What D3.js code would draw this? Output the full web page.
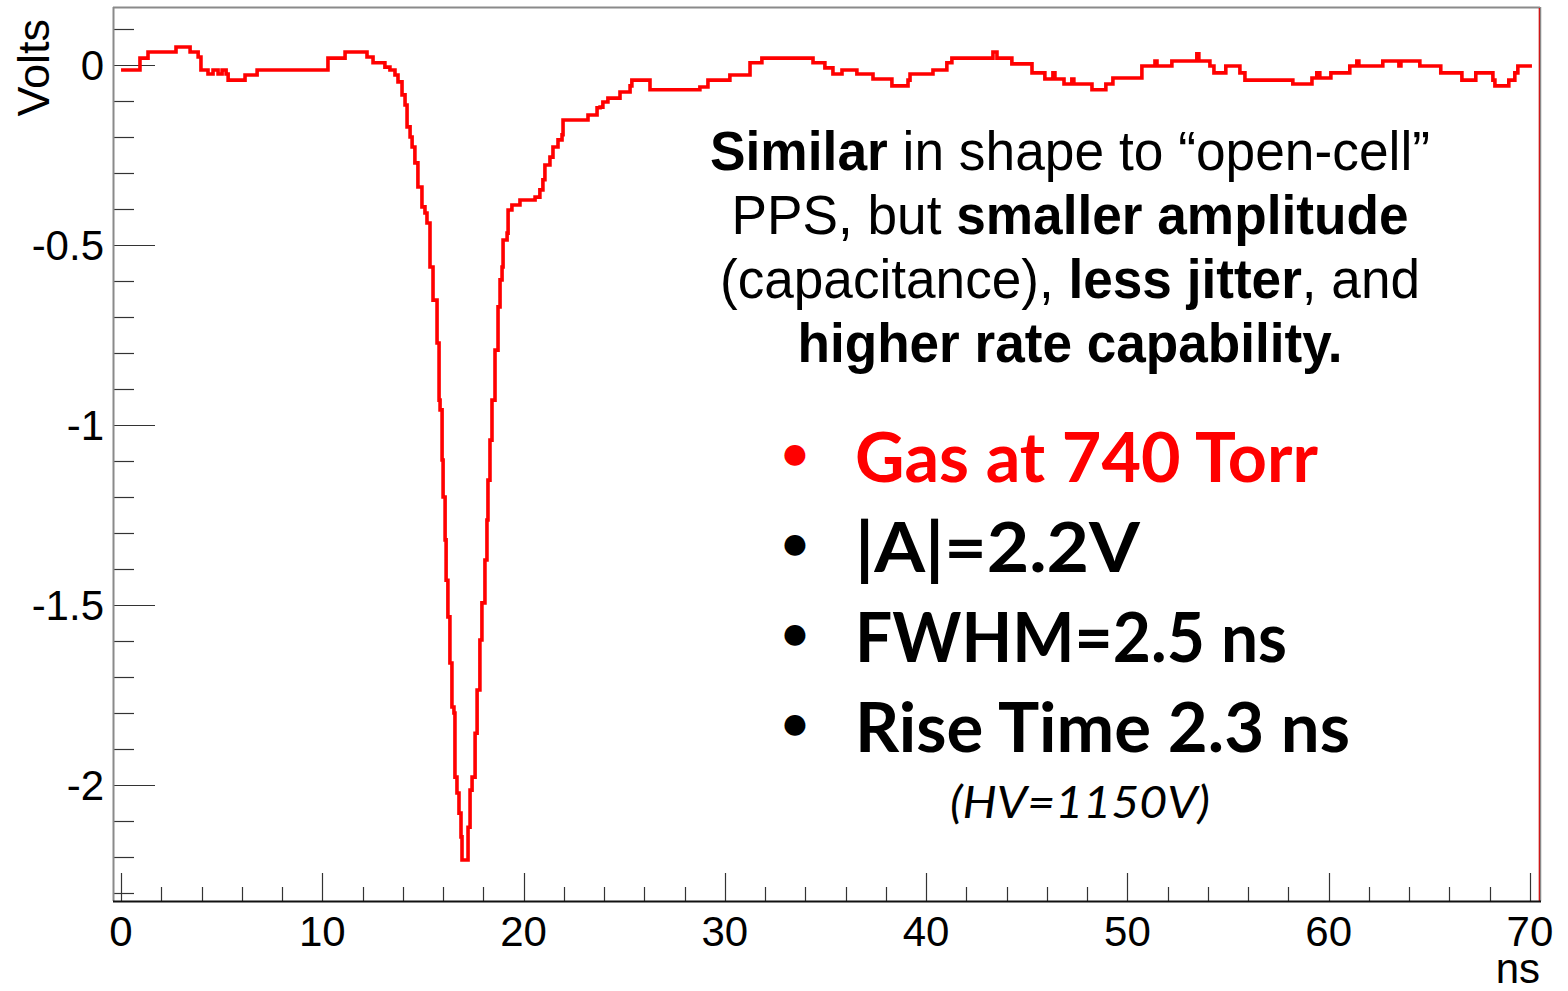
<!DOCTYPE html>
<html>
<head>
<meta charset="utf-8">
<script src="https://cdn.jsdelivr.net/npm/d3@7"></script>
<style>
  html, body { margin: 0; padding: 0; background: #fff; }
  svg { display: block; }
</style>
</head>
<body>
<svg id="chart" width="1568" height="991"></svg>
<script>
// ---------------- data ----------------
// waveform: [time (ns), amplitude (V)]
const waveform = [
  [0,-0.014],[0.94,0.019],[1.34,0.036],[2.73,0.050],[3.43,0.036],[3.83,0.022],[3.97,-0.014],
  [4.32,-0.025],[4.57,-0.014],[4.82,-0.025],[5.02,-0.014],[5.22,-0.025],[5.32,-0.042],[6.16,-0.028],
  [6.76,-0.014],[10.28,0.019],[11.13,0.036],[12.22,0.022],[12.52,0.006],[13.11,-0.006],[13.36,-0.014],
  [13.61,-0.028],[13.76,-0.047],[13.96,-0.083],[14.11,-0.111],[14.21,-0.172],[14.36,-0.200],[14.46,-0.228],
  [14.60,-0.272],[14.75,-0.339],[14.95,-0.394],[15.10,-0.411],[15.20,-0.439],[15.35,-0.561],[15.50,-0.653],
  [15.70,-0.772],[15.80,-0.931],[15.85,-0.958],[15.95,-1.097],[16.00,-1.200],[16.10,-1.319],[16.15,-1.431],
  [16.24,-1.533],[16.34,-1.661],[16.44,-1.783],[16.54,-1.800],[16.59,-1.978],[16.69,-2.022],[16.79,-2.078],
  [16.89,-2.144],[16.94,-2.208],[17.24,-2.117],[17.34,-2.014],[17.44,-1.978],[17.59,-1.856],[17.69,-1.736],
  [17.83,-1.597],[17.93,-1.494],[18.08,-1.375],[18.18,-1.264],[18.23,-1.153],[18.33,-1.042],[18.43,-0.931],
  [18.58,-0.792],[18.73,-0.672],[18.83,-0.597],[18.93,-0.561],[18.98,-0.486],[19.18,-0.467],[19.23,-0.403],
  [19.42,-0.389],[19.82,-0.375],[20.57,-0.367],[20.81,-0.347],[20.96,-0.319],[21.06,-0.278],[21.31,-0.256],
  [21.46,-0.228],[21.71,-0.208],[21.91,-0.194],[21.96,-0.153],[23.20,-0.139],[23.65,-0.119],[23.80,-0.117],
  [23.94,-0.103],[24.19,-0.092],[24.79,-0.075],[25.29,-0.058],[25.38,-0.042],[26.28,-0.069],[28.76,-0.061],
  [29.16,-0.042],[30.25,-0.028],[31.25,0.006],[31.84,0.019],[34.38,0.006],[34.97,-0.008],[35.37,-0.025],
  [35.82,-0.014],[36.56,-0.025],[37.36,-0.039],[38.30,-0.058],[39.10,-0.042],[39.20,-0.025],[40.34,-0.014],
  [41.03,0.006],[41.28,0.019],[43.32,0.036],[43.52,0.019],[44.26,0.003],[45.26,-0.022],[45.90,-0.039],
  [46.30,-0.022],[46.40,-0.039],[46.85,-0.053],[47.24,-0.039],[47.34,-0.053],[48.24,-0.069],[48.93,-0.053],
  [49.28,-0.036],[50.72,-0.003],[51.37,0.011],[51.47,-0.003],[52.21,0.011],[53.45,0.031],[53.55,0.011],
  [54.10,-0.003],[54.30,-0.022],[54.89,-0.003],[55.59,-0.022],[55.84,-0.042],[58.22,-0.053],[59.17,-0.036],
  [59.41,-0.022],[59.56,-0.036],[60.11,-0.022],[61.05,-0.003],[61.40,0.011],[61.50,-0.003],[62.69,0.011],
  [63.49,-0.003],[63.59,0.011],[64.53,-0.003],[65.57,-0.022],[66.62,-0.042],[67.31,-0.022],[68.16,-0.042],
  [68.26,-0.058],[68.95,-0.042],[69.25,-0.022],[69.40,-0.003],[70.10,-0.003]
];

const xDomain = [-0.4, 70.5];
const yDomain = [-2.322, 0.161];
const xMajorTicks = [0, 10, 20, 30, 40, 50, 60, 70];
const xTickLabels = ["0", "10", "20", "30", "40", "50", "60", "70"];
const yMajorTicks = [0, -0.5, -1, -1.5, -2];
const yTickLabels = ["0", "-0.5", "-1", "-1.5", "-2"];
const xTitle = "ns";
const yTitle = "Volts";

const paragraphLines = [
  [["Similar", true], [" in shape to \u201copen-cell\u201d", false]],
  [["PPS, but ", false], ["smaller amplitude", true]],
  [["(capacitance), ", false], ["less jitter", true], [", and", false]],
  [["higher rate capability.", true]]
];
const bulletItems = ["Gas at 740 Torr", "|A|=2.2V", "FWHM=2.5 ns", "Rise Time 2.3 ns"];
const bulletColors = ["#ff0000", "#000", "#000", "#000"];
const footnote = "(HV=1150V)";

// ---------------- layout ----------------
const L = 113, R = 1540, T = 7, B = 901;
const svg = d3.select("#chart");

const x = d3.scaleLinear().domain(xDomain).range([L, R]);
const y = d3.scaleLinear().domain(yDomain).range([B, T]);

const axisFont = "'Liberation Sans', Arial, sans-serif";

// frame (top / right)
svg.append("line").attr("x1", L).attr("x2", R).attr("y1", T + 0.5).attr("y2", T + 0.5)
  .attr("stroke", "#8a8a8a").attr("stroke-width", 2);
svg.append("line").attr("x1", R + 0.5).attr("x2", R + 0.5).attr("y1", T).attr("y2", B)
  .attr("stroke", "#8a8a8a").attr("stroke-width", 1.5);
svg.append("line").attr("x1", R - 0.7).attr("x2", R - 0.7).attr("y1", T + 1).attr("y2", B)
  .attr("stroke", "#cc0000").attr("stroke-width", 1.2);

// y axis: ticks inward
const yMinor = d3.range(-2.3, 0.1001, 0.1).map(v => Math.round(v * 10) / 10);
const gy = svg.append("g");
gy.selectAll("line.minor").data(yMinor).join("line")
  .attr("x1", L).attr("x2", d => L + (yMajorTicks.includes(d) ? 42 : 21))
  .attr("y1", d => Math.round(y(d)) + 0.5).attr("y2", d => Math.round(y(d)) + 0.5)
  .attr("stroke", "#333").attr("stroke-width", 1.2);
gy.append("line").attr("x1", L + 0.5).attr("x2", L + 0.5).attr("y1", T).attr("y2", B)
  .attr("stroke", "#8a8a8a").attr("stroke-width", 2);
gy.selectAll("text").data(yMajorTicks).join("text")
  .attr("x", 104).attr("y", d => y(d)).attr("dy", "0.35em")
  .attr("text-anchor", "end").attr("font-family", axisFont).attr("font-size", 42)
  .attr("fill", "#000")
  .text((d, i) => yTickLabels[i]);

// x axis
const xMinor = d3.range(0, 70.001, 2);
const gx = svg.append("g");
gx.selectAll("line").data(xMinor).join("line")
  .attr("x1", d => Math.round(x(d)) + 0.5).attr("x2", d => Math.round(x(d)) + 0.5)
  .attr("y1", B).attr("y2", d => B - (d % 10 === 0 ? 28 : 14))
  .attr("stroke", "#333").attr("stroke-width", 1.2);
gx.append("line").attr("x1", L).attr("x2", R + 1).attr("y1", B + 0.5).attr("y2", B + 0.5)
  .attr("stroke", "#111").attr("stroke-width", 2.2);
gx.selectAll("text").data(xMajorTicks).join("text")
  .attr("x", d => x(d)).attr("y", 946)
  .attr("text-anchor", "middle").attr("font-family", axisFont).attr("font-size", 42)
  .attr("fill", "#000")
  .text((d, i) => xTickLabels[i]);

// axis titles
svg.append("text").attr("x", 1540).attr("y", 983).attr("text-anchor", "end")
  .attr("font-family", axisFont).attr("font-size", 42).attr("fill", "#000").text(xTitle);
svg.append("text").attr("transform", "translate(49,19) rotate(-90)")
  .attr("text-anchor", "end")
  .attr("font-family", axisFont).attr("font-size", 45).attr("fill", "#000").text(yTitle);

// waveform
const line = d3.line().x(d => x(d[0])).y(d => y(d[1])).curve(d3.curveStepAfter);
svg.append("path").datum(waveform).attr("d", line)
  .attr("fill", "none").attr("stroke", "#ff0000").attr("stroke-width", 3.6)
  .attr("stroke-linejoin", "miter");

// ---------------- annotation ----------------
const parBase = [170, 234, 298, 362];
const parWidth = [720, 677, 700, 545];
paragraphLines.forEach((segs, i) => {
  const t = svg.append("text").attr("x", 1070).attr("y", parBase[i])
    .attr("text-anchor", "middle").attr("font-family", axisFont).attr("font-size", 55)
    .attr("fill", "#000")
    .attr("textLength", parWidth[i]).attr("lengthAdjust", "spacingAndGlyphs");
  segs.forEach(s => t.append("tspan").attr("font-weight", s[1] ? "bold" : "normal").text(s[0]));
});

const bulletFont = "Lato, 'Open Sans', sans-serif";
const bulBase = [482, 572, 662, 752];
const bulWidth = [463, 285, 432, 495];
bulletItems.forEach((s, i) => {
  svg.append("text").attr("x", 795).attr("y", bulBase[i] - 12).attr("text-anchor", "middle")
    .attr("font-family", bulletFont).attr("font-weight", "bold").attr("font-size", 48)
    .attr("fill", bulletColors[i]).text("\u2022");
  svg.append("text").attr("x", 855).attr("y", bulBase[i])
    .attr("font-family", bulletFont).attr("font-weight", "bold").attr("font-size", 68)
    .attr("fill", bulletColors[i])
    .attr("textLength", bulWidth[i]).attr("lengthAdjust", "spacingAndGlyphs")
    .text(s);
});
svg.append("text").attr("x", 950).attr("y", 818)
  .attr("font-family", bulletFont).attr("font-style", "italic").attr("font-size", 44)
  .attr("fill", "#000").attr("textLength", 260).attr("lengthAdjust", "spacingAndGlyphs")
  .text(footnote);
</script>
</body>
</html>
